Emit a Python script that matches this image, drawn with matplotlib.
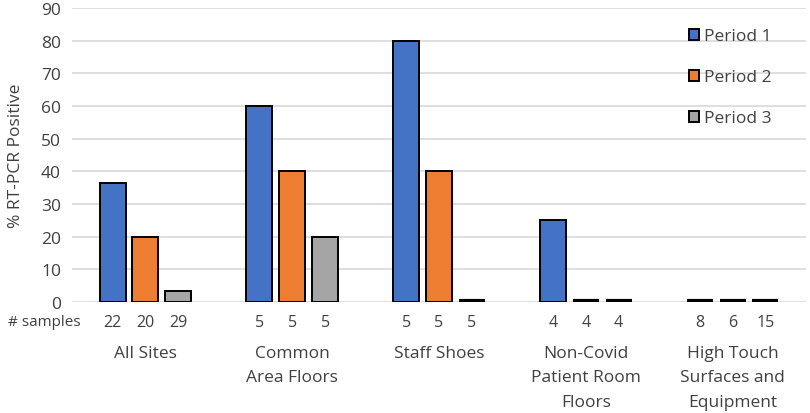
import numpy as np
import matplotlib; matplotlib.use("Agg")
import matplotlib.pyplot as plt

categories = ["All Sites", "Common\nArea Floors", "Staff Shoes",
              "Non-Covid\nPatient Room\nFloors", "High Touch\nSurfaces and\nEquipment"]
periods = ["Period 1", "Period 2", "Period 3"]
p1 = [36.4, 60, 80, 25, 0]
p2 = [20, 40, 40, 0, 0]
p3 = [3.4, 20, 0, 0, 0]
samples = [[22, 20, 29], [5, 5, 5], [5, 5, 5], [4, 4, 4], [8, 6, 15]]
colors = ["#4472C4", "#ED7D31", "#A5A5A5"]
txt = "#404040"

plt.rcParams['font.family'] = ['Open Sans', 'DejaVu Sans']
fig = plt.figure(figsize=(8.1, 4.14), dpi=100)
ax = fig.add_axes([0.089, 0.268, 0.906, 0.710])

x = np.arange(len(categories))
w, off = 0.177, 0.224
for i, (vals, c, lab) in enumerate(zip([p1, p2, p3], colors, periods)):
    xs = x + (i - 1) * off
    ax.bar(xs, vals, w, color=c, edgecolor="black", lw=1.4, label=lab, zorder=3)
    # zero-valued bars show as a thick flat line
    z = [xx for xx, v in zip(xs, vals) if v == 0]
    ax.hlines([0.4] * len(z), [xx - w / 2 for xx in z], [xx + w / 2 for xx in z],
              color="black", lw=3, zorder=4)

ax.set_xlim(-0.5, 4.5); ax.set_ylim(0, 90)
ax.set_yticks(range(0, 91, 10))
ax.yaxis.grid(True, color="#d9d9d9", lw=1.2, zorder=0)
ax.set_xticks([])
for s in ax.spines.values(): s.set_visible(False)
ax.tick_params(axis="y", length=0, labelsize=12.5, labelcolor=txt, pad=8)
ax.set_ylabel("% RT-PCR Positive", fontsize=12.5, color=txt, labelpad=12)

tr = ax.get_xaxis_transform()
for g, ns in enumerate(samples):
    for i, n in enumerate(ns):
        ax.text(g + (i - 1) * off, -0.068, str(n), transform=tr, ha="center", va="center",
                fontsize=11.5, color=txt)
    ax.text(g, -0.145, categories[g], transform=tr, ha="center", va="top",
            fontsize=12.5, color=txt, linespacing=1.72)
fig.text(0.01, 1 - 323 / 414, "# samples", ha="left", va="center", fontsize=11, color=txt)

ax.legend(loc="upper right", bbox_to_anchor=(0.975, 0.985), frameon=False, fontsize=12.5,
          labelcolor=txt, handlelength=0.6, handleheight=0.6, handletextpad=0.3,
          labelspacing=1.45)

fig.savefig("out.png", dpi=100)
